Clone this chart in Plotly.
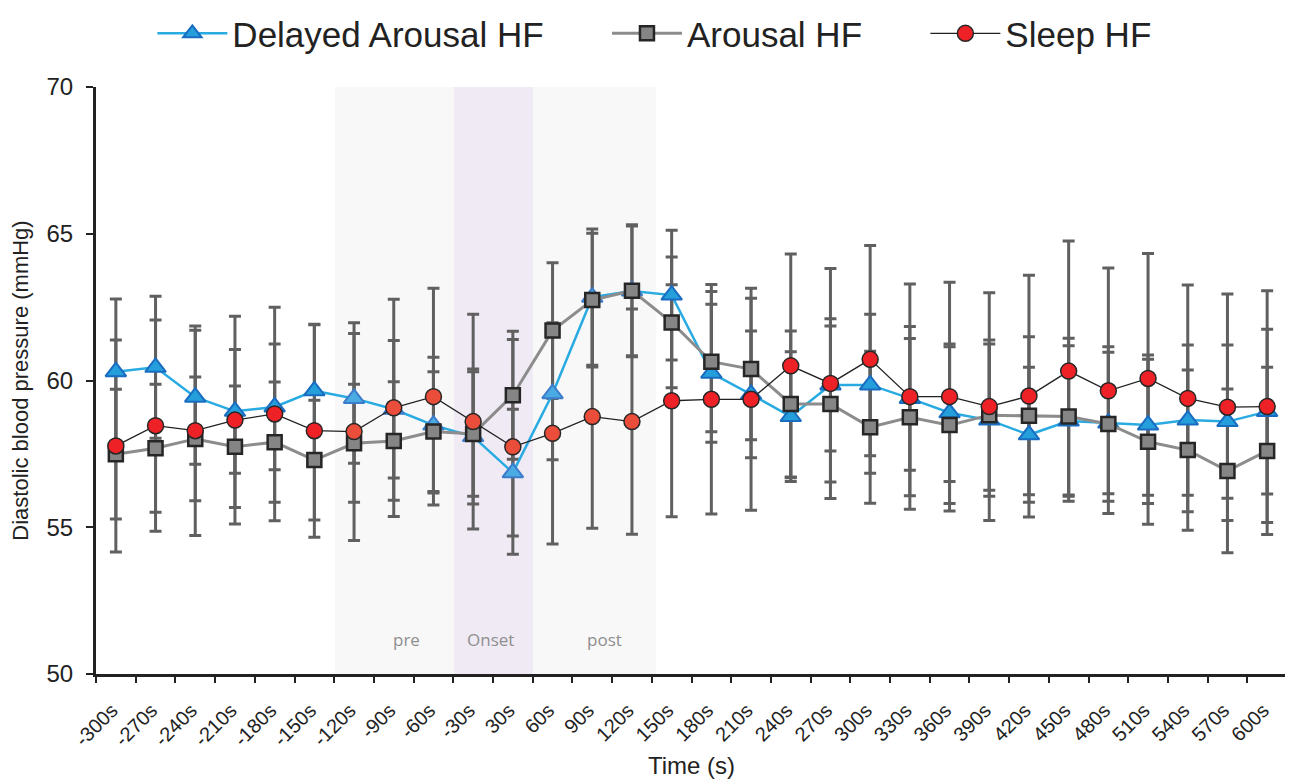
import plotly.graph_objects as go

# ---------------- data ----------------
time_labels = ["-300s", "-270s", "-240s", "-210s", "-180s", "-150s", "-120s", "-90s", "-60s", "-30s",
               "30s", "60s", "90s", "120s", "150s", "180s", "210s", "240s", "270s", "300s",
               "330s", "360s", "390s", "420s", "450s", "480s", "510s", "540s", "570s", "600s"]

delayed_mean = [60.30, 60.45, 59.43, 58.95, 59.10, 59.65, 59.39, 59.02, 58.48, 58.09,
                56.86, 59.55, 62.84, 63.05, 62.91, 60.25, 59.53, 58.77, 59.85, 59.85,
                59.39, 58.90, 58.65, 58.15, 58.62, 58.55, 58.48, 58.65, 58.60, 58.94]
delayed_sd = [2.48, 2.42, 2.28, 2.11, 2.14, 2.25, 2.21, 2.34, 2.31, 2.30,
              2.16, 2.25, 2.32, 2.21, 2.21, 2.35, 2.16, 2.21, 2.25, 2.41,
              2.45, 2.34, 2.59, 2.30, 2.56, 2.41, 2.39, 2.56, 2.61, 2.81]

arousal_mean = [57.49, 57.69, 58.01, 57.74, 57.90, 57.29, 57.86, 57.94, 58.26, 58.18,
                59.50, 61.70, 62.74, 63.06, 61.98, 60.64, 60.39, 59.20, 59.20, 58.41,
                58.75, 58.48, 58.82, 58.80, 58.77, 58.52, 57.91, 57.63, 56.92, 57.60]
arousal_sd = [2.21, 2.18, 2.11, 2.07, 2.05, 2.04, 2.01, 2.02, 2.04, 2.12,
              2.18, 2.31, 2.28, 2.25, 2.23, 2.39, 2.41, 2.49, 2.66, 2.59,
              2.68, 2.67, 2.56, 2.69, 2.67, 2.63, 2.81, 2.73, 2.79, 2.85]

sleep_mean = [57.77, 58.46, 58.29, 58.65, 58.86, 58.29, 58.26, 59.07, 59.45, 58.60,
              57.74, 58.20, 58.77, 58.60, 59.31, 59.36, 59.36, 60.50, 59.90, 60.72,
              59.45, 59.45, 59.11, 59.47, 60.32, 59.65, 60.07, 59.39, 59.09, 59.11]
sleep_sd = [3.61, 3.60, 3.57, 3.54, 3.64, 3.63, 3.71, 3.70, 3.69, 3.66,
            3.66, 3.77, 3.80, 3.84, 3.95, 3.91, 3.78, 3.81, 3.92, 3.88,
            3.84, 3.90, 3.88, 4.12, 4.43, 4.18, 4.26, 3.86, 3.86, 3.95]

series_names = ["Delayed Arousal HF", "Arousal HF", "Sleep HF"]
phase_names = ["pre", "Onset", "post"]

# ---------------- styling ----------------
FONT = "Liberation Sans, Arial, sans-serif"
ERR_COLOR = "#606060"
NBSP = "\u00a0"
n = len(time_labels)
shaded = [6 <= i <= 13 for i in range(n)]
blue_fill = ["#4aabe2" if s else "#259fdc" for s in shaded]
blue_edge = ["#3d7ccb" if s else "#1a6cc0" for s in shaded]
red_fill = ["#ea4d3a" if s else "#ee2226" for s in shaded]

fig = go.Figure()

# error bars (drawn first, behind all markers)
for mean, sd in [(delayed_mean, delayed_sd), (arousal_mean, arousal_sd), (sleep_mean, sleep_sd)]:
    fig.add_trace(go.Scatter(
        x=time_labels, y=mean, mode="markers",
        marker=dict(size=1, opacity=0),
        error_y=dict(type="data", array=sd, visible=True, color=ERR_COLOR, thickness=3, width=6),
        showlegend=False, hoverinfo="skip"))

fig.add_trace(go.Scatter(
    x=time_labels, y=delayed_mean, mode="lines+markers", name=series_names[0] + NBSP * 6,
    line=dict(color="#29abe2", width=2.5),
    marker=dict(symbol="triangle-up", size=18, color=blue_fill,
                line=dict(color=blue_edge, width=2))))

fig.add_trace(go.Scatter(
    x=time_labels, y=arousal_mean, mode="lines+markers", name=series_names[1] + NBSP * 6,
    line=dict(color="#8c8c8c", width=3),
    marker=dict(symbol="square", size=14, color="#858585",
                line=dict(color="#262626", width=2.5))))

fig.add_trace(go.Scatter(
    x=time_labels, y=sleep_mean, mode="lines+markers", name=series_names[2],
    line=dict(color="#222222", width=1.3),
    marker=dict(symbol="circle", size=16, color=red_fill,
                line=dict(color="#262626", width=1.5))))

# phase shading
phase_spans = [(5.52, 8.52, "#f8f8f8"), (8.52, 10.51, "#f0eaf5"), (10.51, 13.61, "#f8f8f8")]
for (x0, x1, col) in phase_spans:
    fig.add_shape(type="rect", xref="x", yref="y", x0=x0, x1=x1, y0=50, y1=70,
                  fillcolor=col, line=dict(width=0), layer="below")

phase_label_x = [7.31, 9.43, 12.3]
for name, xc in zip(phase_names, phase_label_x):
    fig.add_annotation(x=xc, y=51.16, xref="x", yref="y", text=name, showarrow=False,
                       font=dict(family="Open Sans, sans-serif", size=17, color="#8e8e8e"))

# page body has an 8px margin, so the figure is sized/offset to compensate
fig.update_layout(
    width=1285, height=776,
    margin=dict(l=88, r=6, t=79, b=110, autoexpand=False),
    paper_bgcolor="white", plot_bgcolor="white",
    font=dict(family=FONT, color="#222222"),
    legend=dict(orientation="h", xref="container", x=0.503, xanchor="center",
                yref="container", y=0.967, yanchor="middle",
                font=dict(family=FONT, size=35, color="#222222"),
                itemwidth=70, bgcolor="rgba(0,0,0,0)"),
    showlegend=True,
)

fig.update_xaxes(
    type="category", range=[-0.5, n - 0.5], automargin=False,
    tickmode="array", tickvals=time_labels, ticktext=[t + NBSP for t in time_labels],
    showline=True, linecolor="#222222", linewidth=3,
    ticks="outside", ticklen=6, tickwidth=2, tickcolor="#222222",
    tickson="boundaries", ticklabelstandoff=10,
    tickangle=-45, tickfont=dict(family=FONT, size=20, color="#222222"),
    showgrid=False, zeroline=False,
    title=dict(text="Time (s)", font=dict(family=FONT, size=24, color="#222222"), standoff=8),
)
fig.update_yaxes(
    range=[50, 70], dtick=5, tick0=50, automargin=False,
    showline=True, linecolor="#222222", linewidth=3,
    ticks="outside", ticklen=7, tickwidth=2, tickcolor="#222222",
    ticklabelstandoff=8,
    tickfont=dict(family=FONT, size=24, color="#222222"),
    showgrid=False, zeroline=False,
    title=dict(text="Diastolic blood pressure (mmHg)", font=dict(family=FONT, size=22, color="#222222"), standoff=14),
)

fig.write_html("out.html")
